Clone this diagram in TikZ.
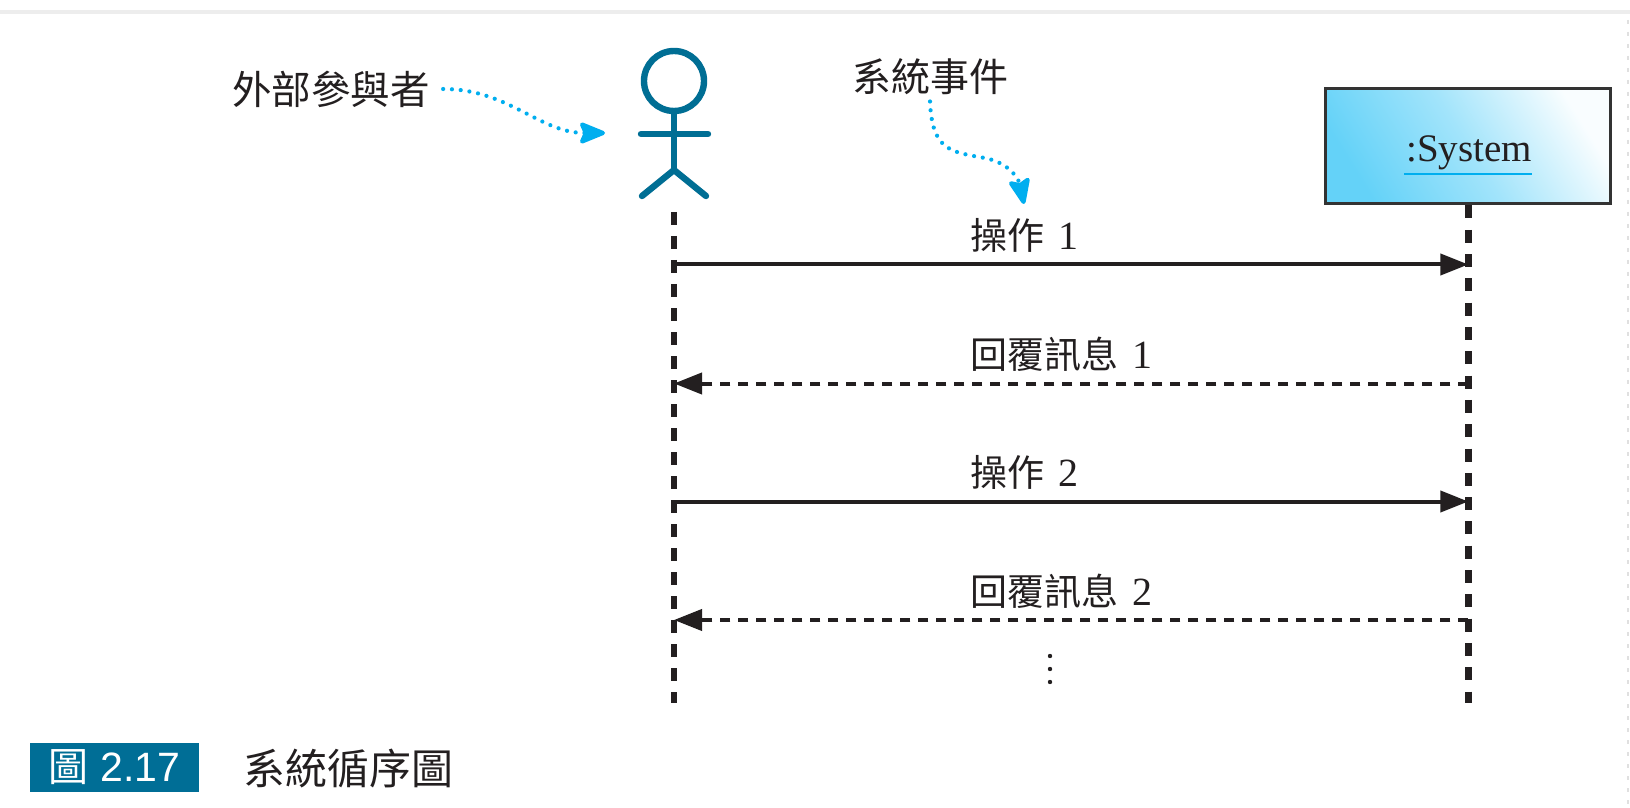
\documentclass[tikz,border=0pt]{standalone}
\usepackage{fontspec}
\setmainfont{Liberation Serif}
\newfontfamily\cjk{Noto Sans CJK TC}
\newfontfamily\ser{Liberation Serif}
\newfontfamily\san{Liberation Sans}
\usetikzlibrary{arrows.meta}
\definecolor{ink}{RGB}{35,31,32}
\definecolor{actorblue}{RGB}{0,110,148}
\definecolor{notecyan}{RGB}{0,174,239}
\definecolor{sysL}{RGB}{100,210,248}
\definecolor{capblue}{RGB}{0,110,150}
\definecolor{edgegray}{RGB}{51,51,51}
\newcommand\mylabzh{\cjk\fontsize{18.5pt}{22pt}\selectfont}
\newcommand\mylabnum{\ser\fontsize{20pt}{22pt}\selectfont}
\begin{document}
\begin{tikzpicture}[x=0.5pt,y=-0.5pt,
  lifeline/.style={draw=ink, line width=3.3pt, dash pattern=on 6.5pt off 5.5pt},
  callmsg/.style={draw=ink, line width=2pt, -{Triangle[length=14pt,width=10.5pt]}},
  replymsg/.style={draw=ink, line width=2pt, dash pattern=on 5pt off 4pt, -{Triangle[length=14pt,width=10.5pt]}},
  notearrow/.style={draw=notecyan, line width=2.1pt, line cap=round, dash pattern=on 0pt off 4.4pt, -{Stealth[length=15pt,width=12pt,inset=2.5pt,fill=notecyan,round]}},
  actorline/.style={draw=actorblue, line width=3.2pt, line cap=round},
  msglabel/.style={anchor=west, inner sep=0pt, text=ink},
  notelabel/.style={inner sep=0pt, text=ink, font=\cjk\fontsize{19.75pt}{24pt}\selectfont},
  sysbox/.style={draw=edgegray, line width=1.5pt, minimum width=142.35pt, minimum height=57.5pt, inner sep=0pt,
     left color=sysL, right color=sysL!4!white, middle color=sysL!60!white, shading angle=122},
  capboxstyle/.style={fill=capblue, minimum width=84.5pt, minimum height=24.5pt, inner sep=0pt, text=white},
  contdot/.style={fill=ink, draw=none}
]
\useasboundingbox (0,0) rectangle (1630,808);
\fill[white] (0,0) rectangle (1630,808);
% page edges
\draw[draw=black!7, line width=2pt] (0,12) -- (1630,12);
\draw[draw=black!12, line width=0.6pt, dash pattern=on 2pt off 4pt] (1628,20) -- (1628,808);

% actor
\draw[actorline] (674,81) circle[radius=30];
\draw[actorline] (674,111) -- (674,170);
\draw[actorline] (641,134) -- (708,134);
\draw[actorline] (642,196) -- (674,170) -- (706,196);

% system box
\node[sysbox] (sys) at (1468.3,146.5) {};
\node[anchor=base, inner sep=0pt, text=ink, font=\ser\fontsize{19.5pt}{22pt}\selectfont] (systxt) at (1469,162) {:System};
\draw[draw=notecyan, line width=1pt] ([yshift=-6pt,xshift=-1pt]systxt.base west) -- ([yshift=-6pt]systxt.base east);

% lifelines
\coordinate (actTop) at (674,212);
\coordinate (actBot) at (674,703);
\draw[lifeline] (actTop) -- (actBot);
\draw[lifeline, dash pattern=on 6.5pt off 5.65pt] (sys.south) -- (sys.south |- actBot);

% messages
\coordinate (c1a) at (674,264.5);
\coordinate (c1b) at (sys.south |- c1a);
\coordinate (r1a) at (674,383.5);
\coordinate (r1b) at (sys.south |- r1a);
\coordinate (c2a) at (674,501.5);
\coordinate (c2b) at (sys.south |- c2a);
\coordinate (r2a) at (674,620);
\coordinate (r2b) at (sys.south |- r2a);
\draw[callmsg] (c1a) -- (c1b);
\draw[replymsg] (r1b) -- (r1a);
\draw[callmsg] (c2a) -- (c2b);
\draw[replymsg] (r2b) -- (r2a);

\node[msglabel] (lab1) at (970,235.5) {\mylabzh 操作\hspace{7pt}\mylabnum 1};
\node[msglabel] (lab2) at (970,354.5) {\mylabzh 回覆訊息\hspace{7pt}\mylabnum 1};
\node[msglabel] (lab3) at (970,472) {\mylabzh 操作\hspace{7pt}\mylabnum 2};
\node[msglabel] (lab4) at (970,591) {\mylabzh 回覆訊息\hspace{7pt}\mylabnum 2};
% continuation dots
\fill[contdot] (1050,656) circle[radius=2.2];
\fill[contdot] (1050,669) circle[radius=2.2];
\fill[contdot] (1050,682) circle[radius=2.2];

% annotations
\node[notelabel] (actnote) at (331,89) {外部參與者};
\node[notelabel, font=\cjk\fontsize{19.5pt}{24pt}\selectfont] (evtnote) at (930,77) {系統事件};
\coordinate (actTip) at (605,133);
\coordinate (evtTip) at (1024,204);
\draw[notearrow] ([xshift=6.5pt]actnote.east) to[out=0,in=180] (actTip);
\draw[notearrow] ([yshift=-3pt]evtnote.south) .. controls (932,150) and (950,152) .. (985,158) .. controls (1010,163) and (1019,180) .. (evtTip);

% caption
\node[capboxstyle] (capbox) at (114.5,767.5) {{\cjk\fontsize{20pt}{24pt}\selectfont 圖}\hspace{6pt}{\san\fontsize{20.5pt}{24pt}\selectfont 2.17}};
\node[anchor=west, inner sep=0pt, text=ink, font=\cjk\fontsize{21pt}{25pt}\selectfont] (captxt) at (243,769) {系統循序圖};
\end{tikzpicture}
\end{document}
